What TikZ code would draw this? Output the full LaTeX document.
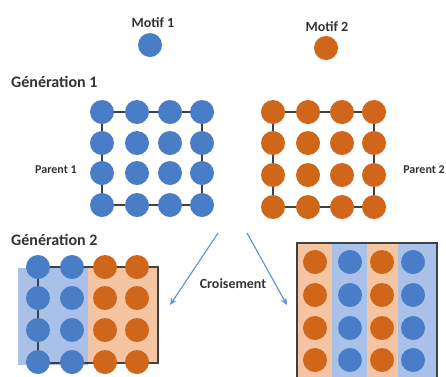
\documentclass[tikz,border=0pt]{standalone}
\usepackage{fontspec}
\setmainfont{Carlito}
\usetikzlibrary{backgrounds,arrows.meta}

\definecolor{dotblue}{HTML}{4A7DC8}
\definecolor{dotorange}{HTML}{D0661A}
\definecolor{paleblue}{HTML}{A9C0E8}
\definecolor{paleorange}{HTML}{F5C4A2}
\definecolor{framegray}{HTML}{404040}
\definecolor{arrowblue}{HTML}{5B8EDB}
\definecolor{textgray}{HTML}{333333}

\tikzset{
  dot/.style={circle, inner sep=0pt, minimum size=24pt},
  bluedot/.style={dot, fill=dotblue},
  orangedot/.style={dot, fill=dotorange},
  gridframe/.style={draw=framegray, line width=1.6pt},
  txt/.style={inner sep=0pt, text=textgray, font=\bfseries\fontsize{14}{16}\selectfont},
  smalltxt/.style={inner sep=0pt, text=textgray, font=\bfseries\fontsize{12}{14}\selectfont},
  heading/.style={inner sep=0pt, anchor=west, text=textgray, font=\bfseries\fontsize{16}{18}\selectfont},
  crossarrow/.style={draw=arrowblue, line width=1.1pt, -{Stealth[length=7pt,width=6pt]}}
}

\begin{document}
\begin{tikzpicture}[x=1pt,y=-1pt]
  \clip (0,0) rectangle (446,376);

  % the two motifs
  \node[txt] (motif1) at (153,23) {Motif 1};
  \node[bluedot] (m1) at (150,45) {};
  \node[txt] (motif2) at (327,27) {Motif 2};
  \node[orangedot] (m2) at (326,48) {};

  % first generation: the two parents
  \node[heading] (gen1) at (11,82) {Génération 1};
  \foreach \x [count=\c] in {102,137,170,202}
    \foreach \y [count=\r] in {112,143,173,205}
      \node[bluedot] (pa-\r-\c) at (\x,\y) {};
  \foreach \x [count=\c] in {273,308,342,374}
    \foreach \y [count=\r] in {112,143,175,207}
      \node[orangedot] (pb-\r-\c) at (\x,\y) {};
  \node[smalltxt] (parent1) at (56,170) {Parent 1};
  \node[smalltxt, anchor=east] (parent2) at (445,170) {Parent 2};

  % second generation: the two offspring
  \node[heading] (gen2) at (11,240) {Génération 2};
  \foreach \x [count=\c] in {38,72,105,137}
    \foreach \y [count=\r] in {267,298,330,362} {
      \ifnum\c<3 \def\dotstyle{bluedot}\else\def\dotstyle{orangedot}\fi
      \node[\dotstyle] (ca-\r-\c) at (\x,\y) {};
    }
  \foreach \x [count=\c] in {315,350,382,413}
    \foreach \y [count=\r] in {262,295,328,360} {
      \ifodd\c \def\dotstyle{orangedot}\else\def\dotstyle{bluedot}\fi
      \node[\dotstyle] (cb-\r-\c) at (\x,\y) {};
    }

  \coordinate (ca-corner) at (158,363);
  \coordinate (cb-bl) at (297,380);
  \coordinate (cb-tr) at (437,243);
  \coordinate (cb-br) at (437,380);

  \begin{pgfonlayer}{background}
    \fill[white] (0,0) rectangle (446,376);
    % parent frames
    \draw[gridframe] (pa-1-1.center) rectangle (pa-4-4.center);
    \draw[gridframe] (pb-1-1.center) rectangle (pb-4-4.center);
    % first offspring: blue half and orange half
    \fill[paleblue] (18,268) rectangle (88,365);
    \fill[paleorange] (88,268) rectangle (158,363);
    \draw[gridframe] (ca-1-1.center) rectangle (ca-corner);
    % second offspring: alternating stripes
    \fill[paleorange] (297,243) rectangle (332,380);
    \fill[paleblue] (332,243) rectangle (367,380);
    \fill[paleorange] (367,243) rectangle (398,380);
    \fill[paleblue] (398,243) rectangle (437,380);
    \draw[gridframe] (cb-bl) |- (cb-tr) -- (cb-br);
  \end{pgfonlayer}

  % crossing arrows
  \coordinate (split-l) at (218,233);
  \coordinate (split-r) at (247,233);
  \coordinate (to-a) at (170,305);
  \coordinate (to-b) at (287,305);
  \draw[crossarrow] (split-l) -- (to-a);
  \draw[crossarrow] (split-r) -- (to-b);
  \node[txt] (cross) at (233,284) {Croisement};
\end{tikzpicture}
\end{document}
